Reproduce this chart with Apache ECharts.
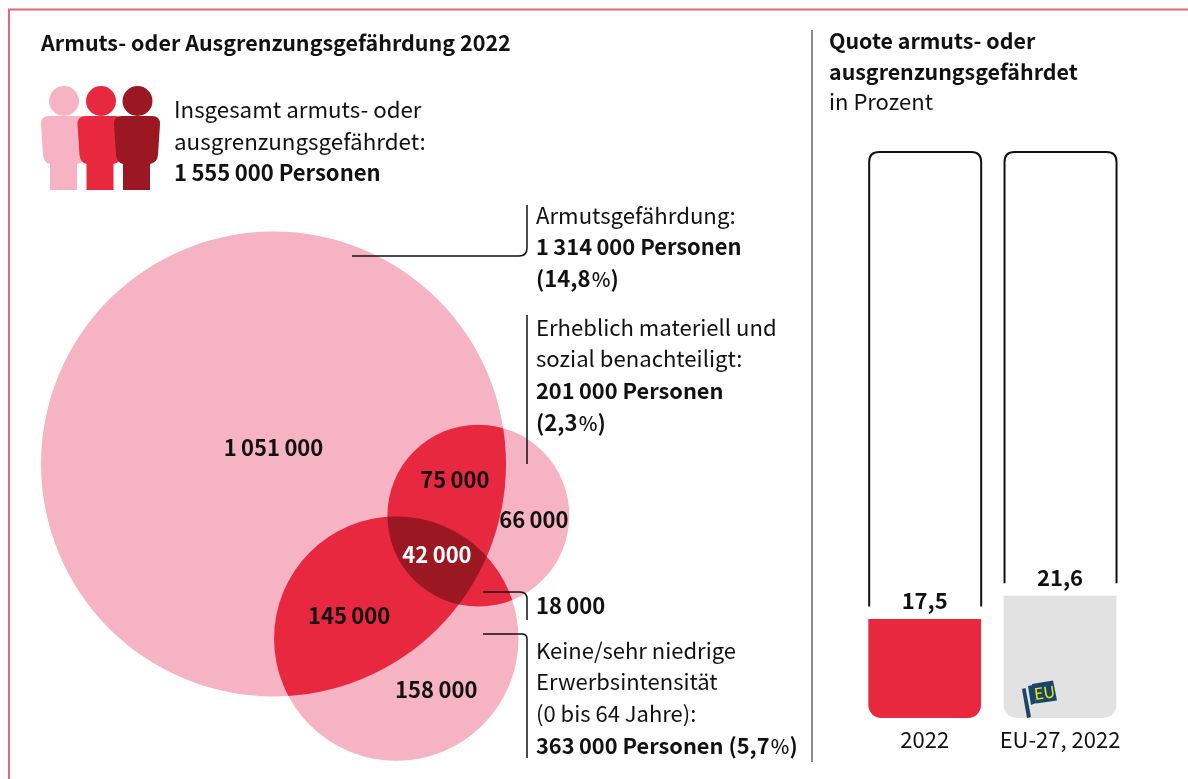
<!DOCTYPE html>
<html lang="de">
<head>
<meta charset="utf-8">
<title>Armuts- oder Ausgrenzungsgefährdung 2022</title>
<style>
  html, body { margin: 0; padding: 0; background: #fff; }
  #chart { width: 1188px; height: 779px; }
</style>
</head>
<body>
<div id="chart"></div>
<script src="https://cdn.jsdelivr.net/npm/echarts@6/dist/echarts.min.js"></script>
<script>
// Venn: Personen je Menge und je Teilfläche
const setNames = ['Armutsgefährdung', 'Materiell benachteiligt', 'Niedrige Erwerbsintensität'];
const setPersons = [1314000, 201000, 363000];
const regionNames = ['nur Armut', 'Armut + Material', 'nur Material', 'alle drei', 'Armut + Erwerb', 'nur Erwerb', 'Material + Erwerb'];
const regionPersons = [1051000, 75000, 66000, 42000, 145000, 158000, 18000];

// Säulen
const quoteCategories = ['2022', 'EU-27, 2022'];
const quoteValues = [17.5, 21.6];

const PINK = '#f6b3c4', RED = '#e8283f', DARK = '#9b1822', GREY = '#e2e2e2', INK = '#111';
const FONT = '"Noto Sans CJK SC", "Noto Sans", sans-serif';
const SIZE = 22;

// Lage der Kreise und Beschriftungen im Venn-Raum (1 = Radius des grossen Kreises)
const setCenters = [[0, 0], [0.881, -0.222], [0.528, -0.751]];
const regionAnchors = [[0, 0.069], [0.78, -0.069], [1.12, -0.24], [0.703, -0.391], [0.325, -0.654], [0.70, -0.972], [1.129, -0.611]];

const vennData = setPersons.map((v, i) => [setCenters[i][0], setCenters[i][1], Math.sqrt(v / setPersons[0]), setNames[i]]);
const regionData = regionPersons.map((v, i) => ({
  name: regionNames[i],
  value: [regionAnchors[i][0], regionAnchors[i][1], v],
  label: {
    color: i === 3 ? '#fff' : INK,
    align: i === 6 ? 'left' : 'center'
  }
}));

function persons(v) {
  return String(v).replace(/\B(?=(\d{3})+$)/g, '\u2009');
}

function circleOf(api, i) {
  const d = vennData[i];
  const c = api.coord([d[0], d[1]]);
  return { cx: c[0], cy: c[1], r: api.size([d[2], 0])[0] };
}

// Texte (Zeile, x, y, Schnitt, Grösse)
const texts = [
  ['Armuts- oder Ausgrenzungsgefährdung 2022', 41, 43, 700, 21.5],
  ['Insgesamt armuts- oder', 174, 110, 400, 22.3],
  ['ausgrenzungsgefährdet:', 174, 141, 400, 22.4],
  ['1\u2009555\u2009000 Personen', 174, 173, 700, 22],
  ['Armutsgefährdung:', 536, 216, 400, 22.2],
  ['1\u2009314\u2009000 Personen', 536, 247, 700, 21.9],
  ['(14,8\u200a{r|%})', 536, 279, 700, 22],
  ['Erheblich materiell und', 536, 328, 400, 22.1],
  ['sozial benachteiligt:', 536, 359, 400, 22.1],
  ['201\u2009000 Personen', 536, 391, 700, 21.8],
  ['(2,3\u200a{r|%})', 536, 423, 700, 22],
  ['Keine/sehr niedrige', 536, 651, 400, 22],
  ['Erwerbsintensität', 536, 682, 400, 22],
  ['(0 bis 64 Jahre):', 536, 714, 400, 22],
  ['363\u2009000 Personen (5,7\u200a{r|%})', 536, 746, 700, 21.8],
  ['Quote armuts- oder', 829, 41, 700, 21.4],
  ['ausgrenzungsgefährdet', 829, 72, 700, 21.4],
  ['in Prozent', 829, 102, 400, 22]
];

const leaderPaths = [
  'M352 256H519Q527 256 527 248V205',
  'M527 315V464',
  'M483 592H520Q527 592 527 599V620',
  'M483 634H522Q527 634 527 639V758'
];

const bodyPath = 'M8 116H38Q46 116 46 124L44 155Q43 163 36 164V190H9V164Q3 163 2 155L0 124Q0 116 8 116Z';
const people = [[41, 64, PINK], [77.5, 101, RED], [114, 137.5, DARK]];

const chart = echarts.init(document.getElementById('chart'));

chart.setOption({
  animation: false,
  textStyle: { fontFamily: FONT },
  grid: [
    { left: 41, top: 231.5, width: 558, height: 465 },
    { left: 857, top: 152, width: 270.7, height: 566 }
  ],
  xAxis: [
    { type: 'value', gridIndex: 0, min: -1, max: 1.4, show: false },
    {
      type: 'category',
      gridIndex: 1,
      data: quoteCategories,
      axisLine: { show: false },
      axisTick: { show: false },
      axisLabel: { color: INK, fontSize: SIZE, fontFamily: FONT, margin: 11, interval: 0 }
    }
  ],
  yAxis: [
    { type: 'value', gridIndex: 0, min: -1, max: 1, show: false },
    { type: 'value', gridIndex: 1, min: 0, max: 100, show: false }
  ],
  graphic: {
    elements: [
      // Rahmen und Trennlinie
      { type: 'polyline', silent: true, shape: { points: [[9, 779], [9, 9.5], [1188, 9.5]] }, style: { stroke: '#ea6478', lineWidth: 2, fill: null } },
      { type: 'line', silent: true, shape: { x1: 812, y1: 30, x2: 812, y2: 762 }, style: { stroke: '#666', lineWidth: 1.5 } }
    ].concat(texts.map(t => ({
      type: 'text',
      silent: true,
      z: 10,
      style: {
        text: t[0], x: t[1], y: t[2],
        fill: INK,
        font: t[3] + ' ' + t[4] + 'px ' + FONT,
        rich: { r: { fontFamily: FONT, fontSize: t[4] - 2, fontWeight: 500, fill: INK } },
        textAlign: 'left',
        textVerticalAlign: 'middle'
      }
    })))
  },
  series: [
    {
      // Drei Kreise
      type: 'custom',
      xAxisIndex: 0,
      yAxisIndex: 0,
      silent: true,
      data: vennData,
      encode: { x: 0, y: 1 },
      renderItem: (params, api) => ({
        type: 'circle',
        shape: circleOf(api, params.dataIndex),
        style: { fill: PINK }
      })
    },
    {
      // Überschneidungen: ein Kreis, beschnitten auf die anderen
      type: 'custom',
      xAxisIndex: 0,
      yAxisIndex: 0,
      silent: true,
      data: [[0, 1], [0, 2], [1, 2], [0, 1, 2]],
      encode: { x: 0, y: 1 },
      renderItem: (params, api) => {
        const ids = [[0, 1], [0, 2], [1, 2], [0, 1, 2]][params.dataIndex];
        const triple = ids.length === 3;
        let el = {
          type: 'circle',
          shape: circleOf(api, ids[ids.length - 1]),
          style: { fill: triple ? DARK : RED }
        };
        for (let i = ids.length - 2; i >= 0; i--) {
          el = {
            type: 'group',
            clipPath: { type: 'circle', shape: circleOf(api, ids[i]) },
            children: [el]
          };
        }
        return el;
      }
    },
    {
      // Werte der Teilflächen
      type: 'scatter',
      xAxisIndex: 0,
      yAxisIndex: 0,
      silent: true,
      clip: false,
      symbolSize: 0,
      z: 5,
      itemStyle: { opacity: 1 },
      data: regionData,
      label: {
        show: true,
        position: 'inside',
        fontFamily: FONT,
        fontSize: SIZE,
        fontWeight: 700,
        formatter: p => persons(p.value[2])
      }
    },
    {
      type: 'bar',
      xAxisIndex: 1,
      yAxisIndex: 1,
      silent: true,
      barWidth: 112.7,
      data: quoteValues.map((v, i) => ({
        value: v,
        itemStyle: { color: i === 0 ? RED : GREY, borderRadius: [0, 0, 13, 13] }
      })),
      label: {
        show: true,
        position: 'top',
        distance: 7,
        color: INK,
        fontFamily: FONT,
        fontSize: SIZE,
        fontWeight: 700,
        formatter: p => String(p.value).replace('.', ',')
      }
    },
    {
      // Umriss 100 Prozent, offen über dem Wert
      type: 'custom',
      xAxisIndex: 1,
      yAxisIndex: 1,
      silent: true,
      data: quoteValues.map((v, i) => [i, v]),
      encode: { x: 0, y: 1 },
      renderItem: (params, api) => {
        const top = api.coord([api.value(0), 100]);
        const bar = api.coord([api.value(0), api.value(1)]);
        const hw = 56, rr = 10, end = bar[1] - 12.5;
        const l = top[0] - hw + 0.5, r = top[0] + hw + 0.5;
        return {
          type: 'path',
          shape: { pathData: `M${l} ${end}V${top[1] + rr}Q${l} ${top[1]} ${l + rr} ${top[1]}H${r - rr}Q${r} ${top[1]} ${r} ${top[1] + rr}V${end}` },
          style: { stroke: INK, lineWidth: 2, fill: null }
        };
      }
    },
    {
      // Hinweislinien
      type: 'custom',
      coordinateSystem: 'none',
      silent: true,
      z: 6,
      data: leaderPaths.map((p, i) => [i]),
      renderItem: (params) => ({
        type: 'path',
        shape: { pathData: leaderPaths[params.dataIndex] },
        style: { stroke: INK, lineWidth: 1.5, fill: null }
      })
    },
    {
      // Personen-Symbol
      type: 'custom',
      coordinateSystem: 'none',
      silent: true,
      data: people.map((p, i) => [i]),
      renderItem: (params) => {
        const p = people[params.dataIndex];
        return {
          type: 'group',
          children: [
            { type: 'circle', shape: { cx: p[1], cy: 101, r: 15 }, style: { fill: p[2] } },
            { type: 'path', x: p[0], shape: { pathData: bodyPath }, style: { fill: p[2] } }
          ]
        };
      }
    },
    {
      // EU-Fähnchen
      type: 'custom',
      coordinateSystem: 'none',
      silent: true,
      z: 7,
      data: [[0]],
      renderItem: () => ({
        type: 'group',
        children: [
          { type: 'polygon', shape: { points: [[1022, 689], [1025.5, 688], [1031, 717], [1027, 718]] }, style: { fill: '#17466a' } },
          { type: 'polygon', shape: { points: [[1028, 686], [1033, 685], [1036, 703], [1031, 705]] }, style: { fill: '#17466a' } },
          { type: 'polygon', shape: { points: [[1032, 684], [1053, 680.5], [1057, 700.5], [1036, 703.5]] }, style: { fill: '#17466a' } },
          { type: 'text', rotation: 0.14, x: 1044.5, y: 692.5, style: { text: 'EU', fill: '#f8e800', font: '400 16px ' + FONT, textAlign: 'center', textVerticalAlign: 'middle' } }
        ]
      })
    }
  ]
});
</script>
</body>
</html>
